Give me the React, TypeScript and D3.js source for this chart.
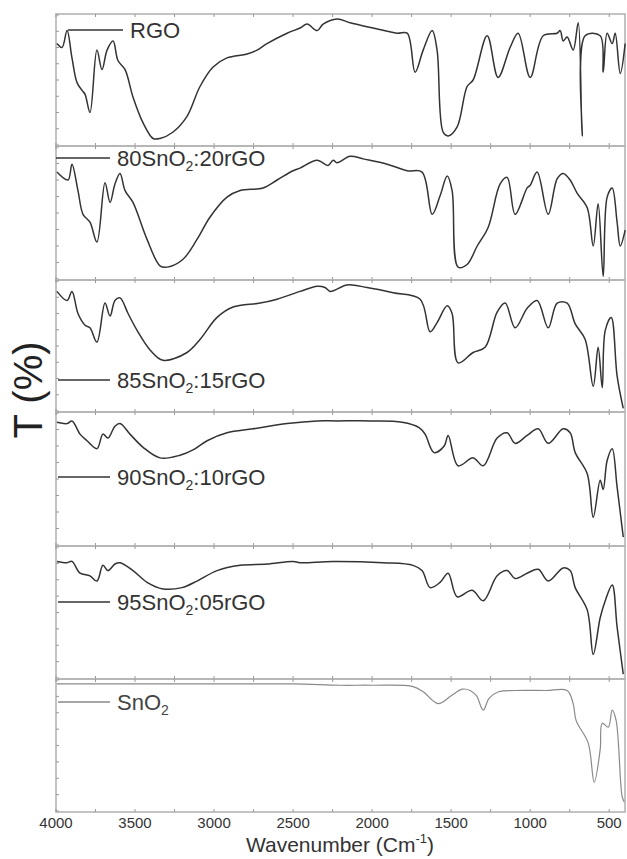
import React from "react";
import * as d3 from "d3";

// ---- Data (wavenumber cm^-1, relative transmittance per panel 0..100) ----
const rgoWave = [3994, 3962, 3930, 3899, 3867, 3835, 3816, 3785, 3741, 3709, 3677, 3639, 3608, 3563, 3513, 3449, 3386, 3342, 3259, 3171, 3089, 3006, 2918, 2791, 2728, 2665, 2538, 2456, 2411, 2348, 2310, 2222, 2139, 1994, 1842, 1778, 1728, 1677, 1620, 1589, 1551, 1519, 1462, 1399, 1361, 1272, 1203, 1127, 1076, 1000, 918, 829, 810, 791, 766, 728, 696, 671, 652, 557, 538, 513, 481, 462, 430, 399];
const rgoT = [78, 75, 88, 67, 48, 42, 39, 25, 73, 58, 73, 80, 65, 58, 37, 17, 5, 5, 10, 22, 45, 60, 67, 70, 73, 78, 86, 90, 93, 88, 93, 97, 94, 90, 86, 86, 56, 73, 88, 73, 10, 7, 14, 45, 50, 84, 52, 75, 86, 52, 84, 86, 88, 80, 83, 73, 94, 7, 84, 84, 56, 86, 78, 86, 55, 78];

const s80Wave = [3994, 3924, 3899, 3861, 3829, 3785, 3741, 3690, 3658, 3627, 3595, 3563, 3513, 3424, 3342, 3297, 3196, 3108, 3025, 2918, 2835, 2690, 2601, 2500, 2456, 2348, 2279, 2247, 2222, 2139, 2057, 1905, 1778, 1684, 1620, 1570, 1525, 1494, 1456, 1399, 1335, 1266, 1190, 1146, 1095, 1019, 1000, 956, 886, 829, 791, 747, 703, 639, 601, 570, 538, 513, 481, 450, 430, 399];
const s80T = [81, 75, 87, 67, 49, 43, 28, 73, 58, 72, 80, 67, 58, 30, 10, 9, 15, 30, 47, 62, 67, 69, 75, 82, 84, 90, 86, 90, 88, 93, 91, 87, 82, 81, 49, 63, 78, 67, 9, 11, 25, 39, 72, 77, 49, 69, 71, 81, 49, 76, 80, 75, 65, 54, 25, 57, 2, 62, 69, 43, 25, 37];

const s85Wave = [3994, 3930, 3899, 3861, 3816, 3785, 3741, 3690, 3658, 3627, 3595, 3544, 3487, 3405, 3323, 3171, 3089, 2981, 2880, 2709, 2601, 2456, 2348, 2298, 2266, 2158, 2032, 1867, 1696, 1633, 1589, 1525, 1494, 1456, 1361, 1285, 1209, 1158, 1095, 1019, 956, 886, 829, 766, 715, 652, 601, 570, 544, 525, 487, 450, 411];
const s85T = [92, 85, 92, 75, 66, 64, 53, 83, 73, 85, 87, 75, 62, 47, 39, 45, 55, 72, 80, 83, 86, 92, 96, 95, 92, 97, 95, 91, 86, 61, 68, 81, 75, 37, 45, 49, 76, 83, 64, 79, 85, 64, 83, 83, 67, 55, 19, 49, 18, 62, 72, 27, 2];

const s90Wave = [3994, 3930, 3899, 3848, 3804, 3741, 3703, 3671, 3627, 3595, 3532, 3449, 3342, 3215, 3133, 3044, 2918, 2753, 2538, 2348, 2222, 2007, 1810, 1703, 1665, 1608, 1544, 1519, 1456, 1361, 1297, 1209, 1146, 1095, 1019, 949, 886, 791, 747, 715, 639, 601, 557, 538, 513, 481, 450, 411];
const s90T = [93, 92, 94, 84, 79, 73, 84, 81, 90, 92, 84, 74, 66, 68, 72, 79, 85, 88, 92, 94, 94, 94, 93, 89, 84, 70, 75, 83, 60, 66, 60, 81, 85, 77, 83, 88, 77, 88, 85, 70, 54, 21, 49, 42, 64, 73, 44, 6];

const s95Wave = [3994, 3930, 3899, 3848, 3785, 3741, 3703, 3671, 3627, 3595, 3513, 3424, 3323, 3203, 3108, 2981, 2835, 2665, 2500, 2456, 2247, 1930, 1741, 1684, 1633, 1570, 1519, 1462, 1367, 1297, 1209, 1146, 1095, 1019, 949, 886, 791, 747, 715, 639, 601, 557, 525, 481, 450, 411];
const s95T = [89, 88, 89, 80, 78, 74, 86, 82, 87, 88, 82, 73, 68, 69, 74, 82, 86, 87, 89, 88, 89, 88, 86, 82, 69, 73, 80, 62, 67, 59, 78, 82, 76, 80, 83, 74, 84, 82, 69, 52, 18, 46, 59, 71, 39, 3];

const sno2Wave = [3994, 3500, 3000, 2500, 2200, 2000, 1741, 1677, 1582, 1500, 1430, 1380, 1340, 1297, 1260, 1200, 1100, 900, 766, 728, 709, 633, 595, 557, 544, 506, 481, 456, 418, 405];
const sno2T = [97, 97, 97, 97, 96, 96, 95, 91, 82, 88, 93, 92, 88, 77, 86, 91, 92, 92, 92, 82, 69, 52, 22, 47, 67, 64, 77, 69, 11, 7];

const sampleNames = ["RGO", "80SnO2:20rGO", "85SnO2:15rGO", "90SnO2:10rGO", "95SnO2:05rGO", "SnO2"];
const xTickValues = [4000, 3500, 3000, 2500, 2000, 1500, 1000, 500];

// ---- Layout ----
const W = 627;
const H = 859;
const left = 56;
const right = 625;
const panelTops = [14, 146, 280, 412, 546, 679];
const panelBottoms = [146, 280, 412, 546, 679, 812];
const labelY = [30, 158, 380, 477, 602, 702];
const labelLineX0 = [68, 56, 58, 58, 58, 58];

const series = [
  { wave: rgoWave, t: rgoT },
  { wave: s80Wave, t: s80T },
  { wave: s85Wave, t: s85T },
  { wave: s90Wave, t: s90T },
  { wave: s95Wave, t: s95T },
  { wave: sno2Wave, t: sno2T },
];

const x = d3.scaleLinear().domain([4000, 400]).range([left, right]);
const minorX = d3.range(4000, 399, -250);

function Label({ name, xPos, y, color }: { name: string; xPos: number; y: number; color: string }) {
  const m = name.match(/^(.*SnO)2(.*)$/);
  const style = { fontFamily: "Liberation Sans, Arial, sans-serif", fontSize: 22, fill: color };
  if (!m) {
    return (
      <text x={xPos} y={y + 8} style={style}>
        {name}
      </text>
    );
  }
  return (
    <text x={xPos} y={y + 8} style={style}>
      {m[1]}
      <tspan fontSize={14} dy={5}>2</tspan>
      <tspan dy={-5}>{m[2]}</tspan>
    </text>
  );
}

export default function App() {
  return (
    <svg width={W} height={H} style={{ position: "absolute", left: 0, top: 0, background: "#fff" }}>
      {series.map((s, i) => {
        const top = panelTops[i];
        const bottom = panelBottoms[i];
        const y = d3.scaleLinear().domain([0, 100]).range([bottom - 1, top + 1]);
        const pts: [number, number][] = s.wave.map((w, k) => [w, s.t[k]]);
        const line = d3
          .line<[number, number]>()
          .x((d) => x(d[0]))
          .y((d) => y(d[1]))
          .curve(d3.curveCatmullRom.alpha(0.5));
        const isSn = i === 5;
        const color = isSn ? "#8a8a8a" : "#333";
        const yTicks = d3.range(0, 100.01, 12.5);
        return (
          <g key={i}>
            <rect x={left} y={top} width={right - left} height={bottom - top} fill="none" stroke="#b5b5b5" strokeWidth={1.6} />
            {minorX.map((v) => (
              <g key={v}>
                <line x1={x(v)} x2={x(v)} y1={bottom} y2={bottom - 3} stroke="#999" strokeWidth={1} />
                <line x1={x(v)} x2={x(v)} y1={top} y2={top + 3} stroke="#999" strokeWidth={1} />
              </g>
            ))}
            {yTicks.map((v) => (
              <line key={v} x1={left} x2={left + 3} y1={y(v)} y2={y(v)} stroke="#999" strokeWidth={1} />
            ))}
            <path d={line(pts) || ""} fill="none" stroke={color} strokeWidth={isSn ? 1.2 : 1.5} strokeLinejoin="round" />
            <line x1={labelLineX0[i]} x2={isSn ? 110 : i === 0 ? 123 : 110} y1={labelY[i]} y2={labelY[i]} stroke={color} strokeWidth={1.5} />
            <Label name={sampleNames[i]} xPos={i === 0 ? 130 : 117} y={labelY[i]} color={isSn ? "#444" : "#333"} />
          </g>
        );
      })}
      {xTickValues.map((v) => (
        <text
          key={v}
          x={x(v)}
          y={828}
          textAnchor="middle"
          style={{ fontFamily: "Liberation Sans, Arial, sans-serif", fontSize: 15, fill: "#333" }}
        >
          {v}
        </text>
      ))}
      <text
        x={340}
        y={852}
        textAnchor="middle"
        style={{ fontFamily: "Liberation Sans, Arial, sans-serif", fontSize: 21, fill: "#333" }}
      >
        Wavenumber (Cm
        <tspan fontSize={13} dy={-9}>-1</tspan>
        <tspan dy={9}>)</tspan>
      </text>
      <text
        transform="translate(42,390) rotate(-90)"
        textAnchor="middle"
        style={{ fontFamily: "Liberation Sans, Arial, sans-serif", fontSize: 40, fill: "#222" }}
      >
        T (%)
      </text>
    </svg>
  );
}
